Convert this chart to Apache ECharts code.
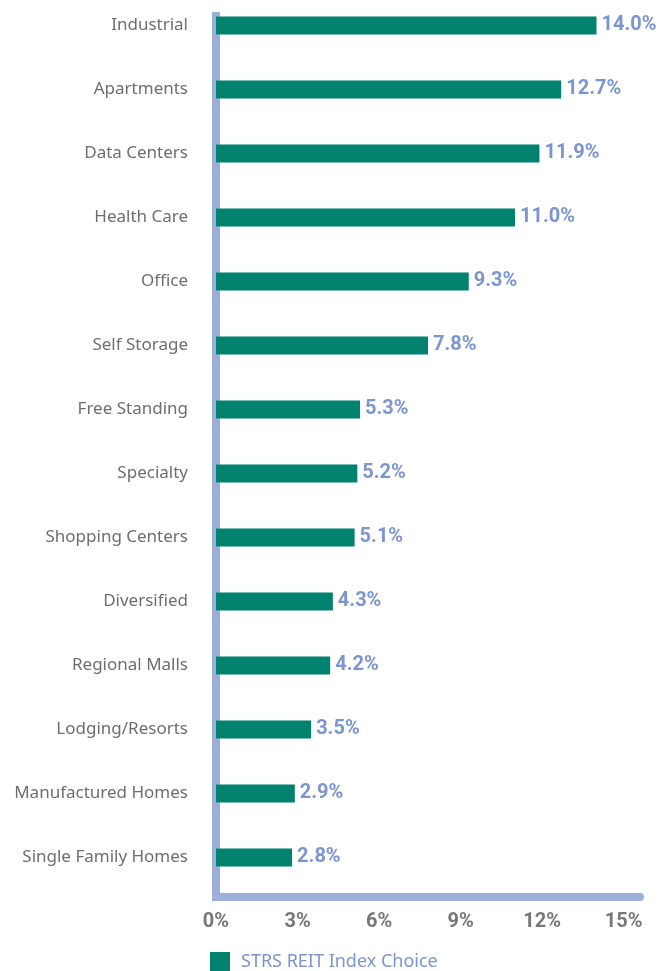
<!DOCTYPE html>
<html>
<head>
<meta charset="utf-8">
<script src="https://cdn.jsdelivr.net/npm/echarts@6/dist/echarts.min.js"></script>
<style>
html,body{margin:0;padding:0;background:#fff;overflow:hidden;}
#chart{width:667px;height:1011px;margin-top:-40px;}
</style>
</head>
<body>
<div id="chart"></div>
<script>
const categories = ["Industrial","Apartments","Data Centers","Health Care","Office","Self Storage","Free Standing","Specialty","Shopping Centers","Diversified","Regional Malls","Lodging/Resorts","Manufactured Homes","Single Family Homes"];
const values = [14.0,12.7,11.9,11.0,9.3,7.8,5.3,5.2,5.1,4.3,4.2,3.5,2.9,2.8];
const seriesName = "STRS REIT Index Choice";
const tickInterval = 3;
const xMin = 0;
const xMax = 15.6;

const AXIS = "#9db0d9";
const BAR = "#00826f";
const BLUE = "#7b95cf";
const NUMFONT = "Roboto";

const chart = echarts.init(document.getElementById('chart'), null, {renderer:'canvas'});
chart.setOption({
  animation:false,
  backgroundColor:'#fff',
  grid:[
    {left:216, right:27, top:56, bottom:74},
    {left:216, right:27, top:33.6, height:896}
  ],
  legend:{
    left:210, top:992, padding:0, itemWidth:20, itemHeight:19, icon:'rect',
    textStyle:{color:BLUE, fontFamily:'Noto Sans', fontSize:18, padding:[0,0,0,6]},
    data:[seriesName]
  },
  xAxis:[
    {gridIndex:0, type:'value', min:xMin, max:xMax, interval:tickInterval,
     axisLine:{show:true, lineStyle:{color:AXIS, width:8}},
     axisTick:{show:false}, splitLine:{show:false},
     axisLabel:{showMaxLabel:false, margin:15, color:'#777', fontFamily:NUMFONT, fontWeight:'bold', fontSize:20, formatter:v=>v+'%'}},
    {gridIndex:1, type:'value', min:xMin, max:xMax, show:false}
  ],
  yAxis:[
    {gridIndex:0, type:'category', data:categories, inverse:true, offset:4,
     axisLine:{show:true, lineStyle:{color:AXIS, width:8, cap:'square'}},
     axisTick:{show:false}, axisLabel:{show:false}},
    {gridIndex:1, type:'category', data:categories, inverse:true,
     axisLine:{show:false}, axisTick:{show:false},
     axisLabel:{margin:28, color:'#6e6e6e', fontFamily:'Noto Sans', fontSize:17}}
  ],
  series:[{
    name:seriesName, type:'bar', xAxisIndex:1, yAxisIndex:1, data:values,
    barWidth:18, itemStyle:{color:BAR},
    label:{show:true, position:'right', distance:5, offset:[0,-1], color:BLUE,
      fontFamily:NUMFONT, fontWeight:'bold', fontSize:20,
      formatter:p=>p.value.toFixed(1)+'%'}
  }]
});
</script>
</body>
</html>
